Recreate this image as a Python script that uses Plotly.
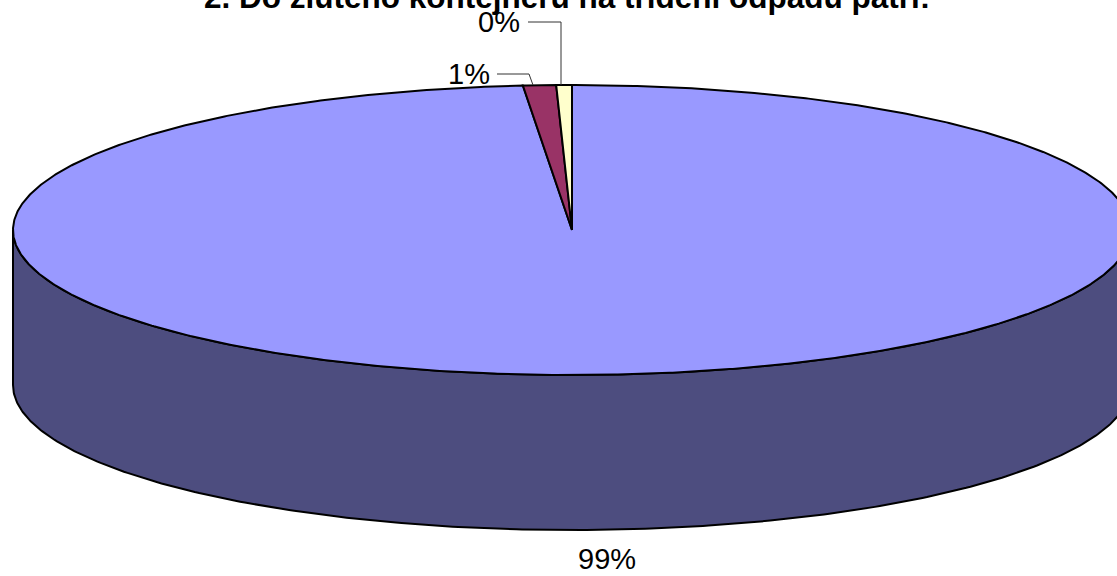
import numpy as np
import plotly.graph_objects as go

# ---- data ----
categories = ["A", "B", "C"]
values = [98.6, 0.95, 0.45]
top_colors = ["#9999FF", "#993366", "#FFFFCC"]
side_colors = ["#4D4D7F", "#4D1A33", "#80806A"]
title_text = "2. Do žlutého kontejneru na třídění odpadu patří:"

# ---- geometry of the 3D pie (pixel space) ----
W, H = 1117, 576
CX, CY_TOP, RX, RY, DEPTH = 572, 230, 559, 145, 155
CY_BOT = CY_TOP + DEPTH


def pt(theta_deg, cy):
    t = np.radians(theta_deg)
    return CX + RX * np.sin(t), cy - RY * np.cos(t)


total = sum(values)
angles = np.cumsum([0] + [v / total * 360 for v in values])

fig = go.Figure()

# side wall (front half visible), belongs to the first (blue) slice
front = np.linspace(90, 270, 300)
xs_top, ys_top = pt(front, CY_TOP)
xs_bot, ys_bot = pt(front[::-1], CY_BOT)
fig.add_trace(go.Scatter(
    x=list(xs_top) + list(xs_bot) + [xs_top[0]],
    y=list(ys_top) + list(ys_bot) + [ys_top[0]],
    mode="lines", fill="toself", fillcolor=side_colors[0],
    line=dict(color="black", width=2), hoverinfo="skip", showlegend=False))

# top faces
for i, v in enumerate(values):
    a0, a1 = angles[i], angles[i + 1]
    th = np.linspace(a0, a1, max(3, int((a1 - a0) * 3)))
    xs, ys = pt(th, CY_TOP)
    fig.add_trace(go.Scatter(
        x=[CX] + list(xs) + [CX], y=[CY_TOP] + list(ys) + [CY_TOP],
        mode="lines", fill="toself", fillcolor=top_colors[i],
        line=dict(color="black", width=2), hoverinfo="skip",
        showlegend=False, name=categories[i]))

# labels
labels = [f"{round(v / total * 100):.0f}%" for v in values]
lab_font = dict(family="Liberation Sans, Arial, sans-serif", size=29, color="black")

# 99% below the pie
fig.add_annotation(x=607, y=559, text=labels[0], showarrow=False,
                   font=lab_font, xanchor="center", yanchor="middle")

# small slices with leader lines: (slice, label x, label y, line start x, line corner x, end x)
small = [(1, 469, 74, 497, 529, 533), (2, 499, 22, 528, 561, 561)]
for idx, lx, ly, l0, l1, ex in small:
    ey = pt(angles[idx + 1], CY_TOP)[1]
    fig.add_trace(go.Scatter(x=[l0, l1, ex], y=[ly, ly, ey], mode="lines",
                             line=dict(color="#333333", width=1),
                             hoverinfo="skip", showlegend=False))
    fig.add_annotation(x=lx, y=ly, text=labels[idx], showarrow=False,
                       font=lab_font, xanchor="center", yanchor="middle")

fig.add_annotation(x=567, y=17, text="<b>" + title_text + "</b>", showarrow=False,
                   font=dict(family="Liberation Sans, Arial, sans-serif", size=31.5, color="black"),
                   xanchor="center", yanchor="bottom")

fig.update_layout(
    width=W, height=H, margin=dict(l=0, r=0, t=0, b=0),
    paper_bgcolor="white", plot_bgcolor="white",
    xaxis=dict(range=[0, W], visible=False, fixedrange=True),
    yaxis=dict(range=[H, 0], visible=False, fixedrange=True),
)

fig.write_html("out.html", config={"displayModeBar": False},
               post_script="document.body.style.margin='0';document.body.style.overflow='hidden';")
